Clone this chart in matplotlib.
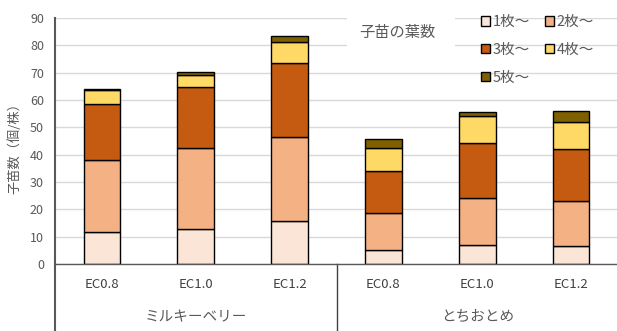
import matplotlib
matplotlib.use("Agg")
import matplotlib.pyplot as plt
from matplotlib.patches import Rectangle
import numpy as np

plt.rcParams['font.family'] = ['Noto Sans CJK JP', 'DejaVu Sans']

varieties = ["ミルキーベリー", "とちおとめ"]
ec_levels = ["EC0.8", "EC1.0", "EC1.2"]
series_names = ["1枚～", "2枚～", "3枚～", "4枚～", "5枚～"]

# leaf-count classes, per variety x EC level (plants per stock)
leaf1 = [11.7, 12.9, 15.7, 5.0, 7.0, 6.7]
leaf2 = [26.2, 29.4, 30.8, 13.5, 17.3, 16.2]
leaf3 = [20.5, 22.4, 27.2, 15.6, 20.0, 19.2]
leaf4 = [5.2, 4.6, 7.6, 8.5, 9.7, 10.0]
leaf5 = [0.4, 1.0, 2.2, 3.0, 1.7, 3.9]
yticks = [0, 10, 20, 30, 40, 50, 60, 70, 80, 90]

colors = ["#FBE5D6", "#F4B183", "#C55A11", "#FFD966", "#7F6000"]
txt = "#595959"

W, H = 617, 331
fig = plt.figure(figsize=(W / 100, H / 100), dpi=100)
x0, x1, ybot, ytop = 55, 618, 264, 18
ax = fig.add_axes([x0 / W, 1 - ybot / H, (x1 - x0) / W, (ybot - ytop) / H])

series = [leaf1, leaf2, leaf3, leaf4, leaf5]
x = np.arange(len(leaf1))
bottom = np.zeros(len(leaf1))
handles = []
for vals, c, name in zip(series, colors, series_names):
    b = ax.bar(x, vals, width=0.39, bottom=bottom, color=c, edgecolor="black",
               linewidth=1.0, label=name, zorder=3)
    handles.append(b)
    bottom += np.array(vals)

ax.set_xlim(-0.5, len(leaf1) - 0.5)
ax.set_ylim(0, 90)
ax.set_yticks(yticks)
ax.yaxis.grid(True, color="#d9d9d9", linewidth=1.0, zorder=0)
ax.set_axisbelow(True)
ax.tick_params(axis="y", length=0, labelsize=9, colors=txt, pad=8)
ax.tick_params(axis="x", length=0, labelbottom=False)
for s in ["top", "right"]:
    ax.spines[s].set_visible(False)
ax.spines["left"].set_color(txt)
ax.spines["left"].set_linewidth(1.5)
ax.spines["bottom"].set_color(txt)
ax.spines["bottom"].set_linewidth(1.0)
ax.spines["bottom"].set_zorder(4)

# two-level category axis
px = 90 / (ybot - ytop)  # data units per pixel
ext = -(H - ybot) / (ybot - ytop)
ax.plot([0, 0], [0, ext], transform=ax.transAxes, color=txt, lw=1.5, clip_on=False)
ax.plot([0.5, 0.5], [0, ext], transform=ax.transAxes, color="#404040", lw=1.0, clip_on=False)
for i in range(len(leaf1)):
    ax.text(i, -21 * px, ec_levels[i % 3], ha="center", va="center",
            fontsize=9.5, color="#404040", clip_on=False)
for g, name in enumerate(varieties):
    ax.text(g * 3 + 1, -53 * px, name, ha="center", va="center",
            fontsize=10.5, color=txt, clip_on=False)

fig.text(15 / W, 1 - 145 / H, "子苗数（個/株）", rotation=90, ha="center", va="center",
         fontsize=9.5, color=txt)

# legend title with white box
fig.patches.append(Rectangle((347 / W, 1 - 60 / H), 108 / W, 48 / H,
                             transform=fig.transFigure, facecolor="white",
                             edgecolor="none", zorder=5))
fig.text(397 / W, 1 - 32 / H, "子苗の葉数", ha="center", va="center",
         fontsize=11, color=txt, zorder=6)

# legend filled row by row: (1,2) / (3,4) / (5)
order = [0, 2, 4, 1, 3]
leg = ax.legend([handles[i] for i in order], [series_names[i] for i in order],
                ncol=2, loc="upper left", bbox_to_anchor=((468 - x0) / (x1 - x0), 1.065),
                frameon=False, fontsize=10.5, handlelength=0.6, handleheight=0.6,
                handletextpad=0.2, columnspacing=1.0, labelspacing=0.95,
                labelcolor=txt)
for h in leg.legend_handles:
    h.set_linewidth(1.0)

fig.savefig("out.png", dpi=100)
